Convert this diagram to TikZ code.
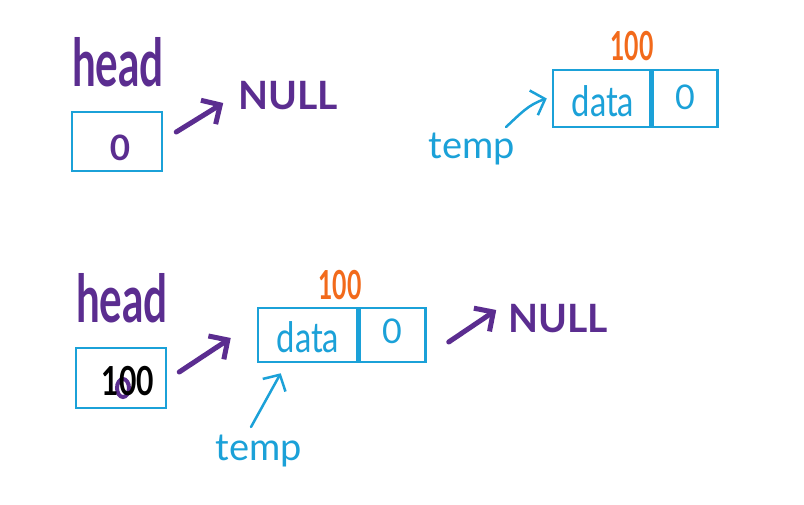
\documentclass[tikz,border=0pt]{standalone}
\usepackage{fontspec}
\usepackage{graphicx}
\setmainfont{Lato}
\usetikzlibrary{arrows.meta}
\definecolor{hpurple}{HTML}{5B2D90}
\definecolor{hcyan}{HTML}{1BA1D8}
\definecolor{horange}{HTML}{F26A1B}
\begin{document}
\begin{tikzpicture}[x=1pt,y=-1pt,
  txt/.style={inner sep=0pt,outer sep=0pt},
  headtxt/.style={txt,text=hpurple,font=\fontsize{66}{66}\bfseries\selectfont},
  nulltxt/.style={txt,text=hpurple,font=\fontsize{39}{39}\bfseries\selectfont},
  addrtxt/.style={txt,text=horange,font=\fontsize{40}{40}\bfseries\selectfont},
  celltxt/.style={txt,text=hcyan,font=\fontsize{42}{42}\selectfont},
  temptxt/.style={txt,text=hcyan,font=\fontsize{38}{38}\selectfont},
  cbox/.style={draw=hcyan,line width=2.5pt,inner sep=0pt},
  parrow/.style={draw=hpurple,line width=5pt,line cap=round,line join=round,
    -{Straight Barb[length=14pt,width=28pt,line width=5pt]}},
  carrow/.style={draw=hcyan,line width=2.5pt,line cap=round,line join=round,
    -{Straight Barb[length=12pt,width=26pt,line width=2.5pt]}}]
\useasboundingbox[fill=white] (0,0) rectangle (804,504);

% ---------- top left ----------
\node[headtxt] (head1) at (118,62) {\scalebox{0.64}[1]{head}};
\node[cbox,minimum width=90pt,minimum height=59pt] (box1) at (117,141.5) {};
\node[txt,text=hpurple,font=\fontsize{35}{35}\bfseries\selectfont] (zero1) at (120,148) {0};
\node[nulltxt] (null1) at (288,96) {NULL};
\draw[parrow] ([shift={(13,-9.5)}]box1.east) -- ([shift={(-15,7)}]null1.west);

% ---------- top right ----------
\node[addrtxt] (addr1) at (632,46) {\scalebox{0.62}[1]{100}};
\node[cbox,minimum width=97pt,minimum height=57pt] (data1) at (601.5,98.5) {};
\node[cbox,minimum width=65pt,minimum height=57pt,anchor=west] (next1) at (data1.east) {};
\node[celltxt] (dt1) at (603,101) {\scalebox{0.78}[1]{data}};
\node[celltxt,font=\fontsize{34}{34}\selectfont] (nx1) at (685,97) {0};
\node[temptxt] (temp1) at (472,149) {temp};
\draw[carrow] ([shift={(-9,-6)}]temp1.north east) .. controls +(15,-14) and +(-18,6) .. ([shift={(-5,0)}]data1.west);

% ---------- bottom ----------
\node[headtxt] (head2) at (122,298) {\scalebox{0.64}[1]{head}};
\node[cbox,minimum width=90pt,minimum height=60pt] (box3) at (121,378) {};
\draw[hpurple,line width=4pt] (123,388) ellipse (6 and 9);
\node[txt,text=black,font=\fontsize{40}{40}\bfseries\selectfont] (val3) at (128,381) {\scalebox{0.75}[1]{100}};

\node[addrtxt] (addr2) at (340,285) {\scalebox{0.62}[1]{100}};
\node[cbox,minimum width=99pt,minimum height=54pt] (data2) at (307.5,335) {};
\node[cbox,minimum width=66pt,minimum height=54pt,anchor=west] (next2) at (data2.east) {};
\node[celltxt] (dt2) at (308,337) {\scalebox{0.78}[1]{data}};
\node[celltxt,font=\fontsize{34}{34}\selectfont] (nx2) at (392,331) {0};
\node[nulltxt] (null2) at (558,319) {NULL};
\node[temptxt] (temp2) at (259,451) {temp};

\draw[parrow] ([shift={(12,-6)}]box3.east) -- ([shift={(-26,3)}]data2.west);
\draw[parrow] ([shift={(22,7)}]next2.east) -- ([shift={(-12,-9)}]null2.west);
\draw[carrow] ([shift={(-8,-8)}]temp2.north) -- ([shift={(24,10)}]data2.south west);
\end{tikzpicture}
\end{document}
